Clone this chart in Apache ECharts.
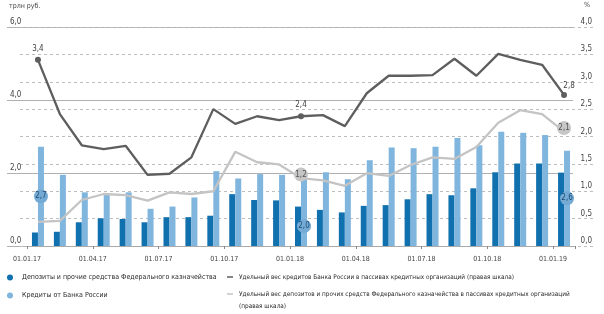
<!DOCTYPE html>
<html><head><meta charset="utf-8">
<script src="https://cdn.jsdelivr.net/npm/echarts@6/dist/echarts.min.js"></script>
<style>html,body{margin:0;padding:0;background:#fff}#c{width:604px;height:314px}</style>
</head><body><div id="c"></div>
<script>
var months = ['01.01.17','01.02.17','01.03.17','01.04.17','01.05.17','01.06.17','01.07.17','01.08.17','01.09.17','01.10.17','01.11.17','01.12.17',
              '01.01.18','01.02.18','01.03.18','01.04.18','01.05.18','01.06.18','01.07.18','01.08.18','01.09.18','01.10.18','01.11.18','01.12.18','01.01.19'];
var deposits = [0.37,0.39,0.65,0.76,0.74,0.65,0.79,0.79,0.83,1.42,1.26,1.25,1.08,0.99,0.92,1.10,1.12,1.28,1.42,1.39,1.58,2.02,2.26,2.26,2.01];
var credits  = [2.72,1.95,1.47,1.44,1.47,1.02,1.08,1.33,2.05,1.85,1.97,1.95,2.02,2.02,1.83,2.35,2.70,2.68,2.72,2.96,2.76,3.13,3.10,3.04,2.61];
var shareCredits  = [3.40,2.41,1.84,1.77,1.83,1.30,1.32,1.62,2.50,2.23,2.37,2.30,2.37,2.39,2.19,2.79,3.11,3.11,3.12,3.42,3.11,3.51,3.40,3.31,2.76];
var shareDeposits = [0.44,0.46,0.84,0.95,0.93,0.83,0.98,0.95,1.00,1.72,1.53,1.49,1.24,1.20,1.10,1.33,1.28,1.48,1.62,1.59,1.81,2.25,2.48,2.41,2.09];
var leftTicks = [0, 2, 4, 6];
var rightTicks = [0, 0.5, 1, 1.5, 2, 2.5, 3, 3.5, 4];

var names = {
  dep: 'Депозиты и прочие средства Федерального казначейства',
  cred: 'Кредиты от Банка России',
  sc: 'Удельный вес кредитов Банка России в пассивах кредитных организаций (правая шкала)',
  sd: 'Удельный вес депозитов и прочих средств Федерального казначейства в пассивах кредитных организаций'
};
var FONT = "'Liberation Sans Narrow','DejaVu Sans Condensed',sans-serif";
function fmt(v){ return v.toFixed(1).replace('.', ','); }
var C = { dep:'#1170ae', cred:'#80b6de', sc:'#5e5e5e', sd:'#c4c4c4' };

var blueCircle = { show:true, formatter:function(p){return fmt(p.value);}, backgroundColor:'#74aad3', color:'#1d4e78',
  fontSize:8, fontFamily:FONT, width:14, height:14, lineHeight:14, align:'center', verticalAlign:'middle', borderRadius:7 };
var grayCircle = { show:true, position:'top', distance:3, formatter:function(p){return fmt(p.value);}, backgroundColor:'#c6c6c6', color:'#555',
  fontSize:8, fontFamily:FONT, width:14, height:14, lineHeight:14, align:'center', verticalAlign:'middle', borderRadius:7 };

var credData = credits.map(function(v,i){
  if (i===0 || i===24) return {value:v, label:Object.assign({position:'inside'}, blueCircle)};
  if (i===12) return {value:v, label:Object.assign({position:'inside', offset:[0,17]}, blueCircle)};
  return v;
});
var scData = shareCredits.map(function(v,i){
  if (i===0 || i===12 || i===24) return {value:v, symbol:'circle', symbolSize:6,
    label:{show:true, position:'top', distance:4, offset: i===24?[5,2]:[0,0], formatter:function(p){return fmt(p.value);}, color:'#444', fontSize:8, fontFamily:FONT}};
  return v;
});
var sdData = shareDeposits.map(function(v,i){
  if (i===12 || i===24) return {value:v, symbol:'circle', symbolSize:1, label:grayCircle};
  return v;
});

var chart = echarts.init(document.getElementById('c'), null, {renderer:'canvas'});
chart.setOption({
  animation:false,
  textStyle:{fontFamily:FONT},
  grid:[
    {left:27, right:29, top:27, bottom:68},
    {left:7, right:31, top:27, bottom:68},
    {left:20, right:9, top:27, bottom:68}
  ],
  xAxis:[
    {type:'category', gridIndex:0, data:months, boundaryGap:true,
     axisLine:{lineStyle:{color:'#aaa', width:1}},
     axisTick:{show:true, interval:2, length:3, lineStyle:{color:'#888'}},
     axisLabel:{interval:2, fontSize:7, color:'#444', fontFamily:FONT, margin:10, padding:[0,22,0,0]}},
    {type:'value', gridIndex:1, show:false, min:0, max:1},
    {type:'value', gridIndex:2, show:false, min:0, max:1}
  ],
  yAxis:[
    {type:'value', gridIndex:0, min:0, max:6, interval:2, show:false},
    {type:'value', gridIndex:0, min:0, max:4, interval:0.5, show:false},
    {type:'value', gridIndex:1, min:0, max:6, interval:2, position:'left',
     axisLine:{show:false}, axisTick:{show:false},
     splitLine:{show:true, lineStyle:{color:'#b0b0b0', width:1}},
     axisLabel:{inside:true, margin:3, verticalAlign:'bottom', padding:[0,0,1,0], fontSize:8, color:'#444', fontFamily:FONT,
       formatter:function(v){return fmt(v);}}},
    {type:'value', gridIndex:2, min:0, max:4, interval:0.5, position:'right',
     axisLine:{show:false}, axisTick:{show:false},
     splitLine:{show:true, lineStyle:{color:'#bdbdbd', width:1, type:[3,3]}},
     axisLabel:{inside:true, margin:3, verticalAlign:'bottom', padding:[0,0,1,0], fontSize:8, color:'#444', fontFamily:FONT,
       formatter:function(v){return fmt(v);}}}
  ],
  legend:[
    {orient:'vertical', left:7, top:274, padding:0, itemWidth:6, itemHeight:6, itemGap:11, icon:'circle',
     textStyle:{fontSize:7, color:'#2a2a2a', fontFamily:FONT, padding:[0,0,0,4]}, data:[names.dep, names.cred]},
    {orient:'vertical', left:227, top:274, padding:0, itemWidth:6, itemHeight:6, itemGap:11, icon:'path://M0,3 L6,3 L6,4.5 L0,4.5 Z',
     textStyle:{fontSize:6.4, color:'#2a2a2a', fontFamily:FONT, padding:[0,0,0,1]}, data:[names.sc, names.sd]}
  ],
  graphic:[
    {type:'text', left:9, top:3, style:{text:'трлн руб.', fontSize:7, fill:'#444', fontFamily:FONT}},
    {type:'text', left:584, top:2, style:{text:'%', fontSize:7, fill:'#444', fontFamily:FONT}},
    {type:'text', left:239, top:303, style:{text:'(правая шкала)', fontSize:6.4, fill:'#2a2a2a', fontFamily:FONT}}
  ],
  series:[
    {name:names.dep, type:'bar', xAxisIndex:0, yAxisIndex:0, data:deposits, barWidth:6, barGap:'0%', itemStyle:{color:C.dep}, z:2},
    {name:names.cred, type:'bar', xAxisIndex:0, yAxisIndex:0, data:credData, barWidth:6, barGap:'0%', itemStyle:{color:C.cred}, z:2},
    {name:names.sc, type:'line', xAxisIndex:0, yAxisIndex:1, data:scData, symbol:'none', lineStyle:{color:C.sc, width:2.3}, itemStyle:{color:C.sc}, z:4},
    {name:names.sd, type:'line', xAxisIndex:0, yAxisIndex:1, data:sdData, symbol:'none', lineStyle:{color:C.sd, width:2.3}, itemStyle:{color:C.sd}, z:3}
  ]
});
</script></body></html>
